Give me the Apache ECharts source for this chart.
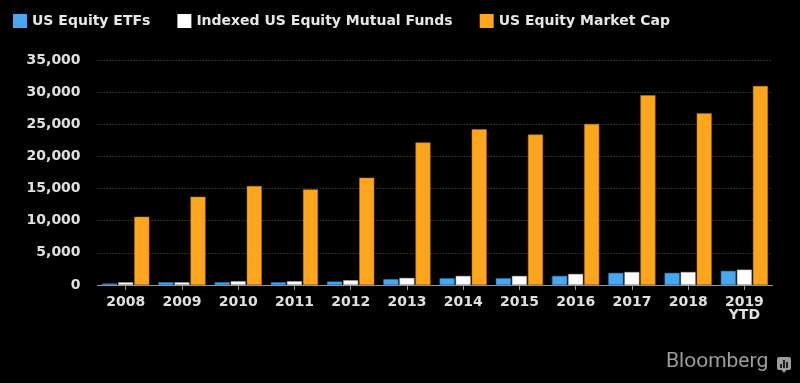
<!DOCTYPE html>
<html>
<head>
<meta charset="utf-8">
<script src="https://cdn.jsdelivr.net/npm/echarts@6/dist/echarts.min.js"></script>
<style>
html,body{margin:0;padding:0;background:#000;}
#chart{width:800px;height:383px;}
</style>
</head>
<body>
<div id="chart"></div>
<script>
const categories = ['2008','2009','2010','2011','2012','2013','2014','2015','2016','2017','2018','2019\nYTD'];
const etfValues = [220, 420, 420, 420, 530, 900, 1040, 1040, 1410, 1880, 1880, 2190];
const mutualFundValues = [420, 420, 590, 590, 740, 1100, 1410, 1410, 1720, 2020, 2020, 2390];
const marketCapValues = [10620, 13730, 15390, 14870, 16680, 22170, 24240, 23400, 25060, 29500, 26700, 30960];
const seriesNames = ['US Equity ETFs', 'Indexed US Equity Mutual Funds', 'US Equity Market Cap'];

const chart = echarts.init(document.getElementById('chart'));
const font = 'DejaVu Sans';
chart.setOption({
  backgroundColor: '#000',
  animation: false,
  legend: {
    left: 13, top: 14, padding: 0,
    itemWidth: 14, itemHeight: 14, itemGap: 27,
    icon: 'rect',
    itemStyle: { borderWidth: 0 },
    data: seriesNames,
    textStyle: { color: '#e6e6e6', fontFamily: font, fontWeight: 'bold', fontSize: 14 }
  },
  grid: { left: 97.6, right: 27.5, top: 60, bottom: 98, containLabel: false },
  xAxis: {
    type: 'category',
    data: categories,
    axisLine: { show: true, lineStyle: { color: '#999', width: 1 } },
    axisTick: { show: true, alignWithLabel: true, length: 5, lineStyle: { color: '#999' } },
    axisLabel: { color: '#e0e0e0', fontFamily: font, fontWeight: 'bold', fontSize: 14, margin: 11, lineHeight: 13 },
    splitLine: { show: false }
  },
  yAxis: {
    type: 'value',
    min: 0, max: 35000, interval: 5000,
    axisLine: { show: false },
    axisTick: { show: false },
    axisLabel: {
      color: '#e0e0e0', fontFamily: font, fontWeight: 'bold', fontSize: 14, margin: 17,
      formatter: v => v.toLocaleString('en-US')
    },
    splitLine: { show: true, lineStyle: { color: '#555', type: [1, 2], width: 1 } }
  },
  series: [
    { name: seriesNames[0], type: 'bar', data: etfValues, barWidth: 15, barGap: '7%',
      itemStyle: { color: '#47a7f0', borderColor: '#2f86cc', borderWidth: 0.5 } },
    { name: seriesNames[1], type: 'bar', data: mutualFundValues, barWidth: 15, barGap: '7%',
      itemStyle: { color: '#ffffff', borderColor: '#aaaaaa', borderWidth: 0.5 } },
    { name: seriesNames[2], type: 'bar', data: marketCapValues, barWidth: 15, barGap: '7%',
      itemStyle: { color: '#fca51d', borderColor: '#b87812', borderWidth: 0.5 } }
  ],
  graphic: [
    { type: 'text', left: 666, top: 351,
      style: { text: 'Bloomberg', fill: '#9c9c9c', font: '21px Roboto' } },
    { type: 'group', left: 777, top: 357, children: [
      { type: 'rect', shape: { x: 0, y: 0, width: 14, height: 13, r: 2 }, style: { fill: '#9c9c9c' } },
      { type: 'polygon', shape: { points: [[4.5,13],[9.5,13],[7,16]] }, style: { fill: '#9c9c9c' } },
      { type: 'rect', shape: { x: 3.2, y: 7, width: 1.6, height: 4 }, style: { fill: '#000' } },
      { type: 'rect', shape: { x: 6.2, y: 3, width: 1.6, height: 8 }, style: { fill: '#000' } },
      { type: 'rect', shape: { x: 9.2, y: 5, width: 1.6, height: 6 }, style: { fill: '#000' } }
    ] }
  ]
});
</script>
</body>
</html>
